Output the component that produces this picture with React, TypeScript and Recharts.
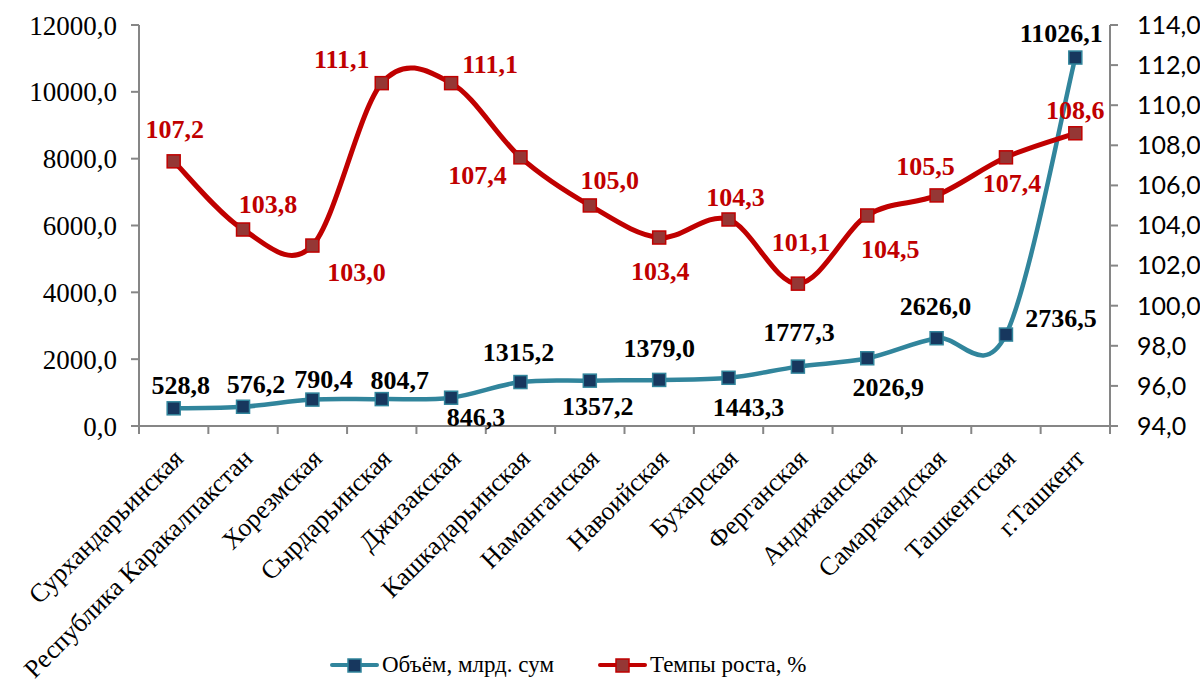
import { LineChart, Line, XAxis, YAxis, Legend, LabelList } from 'recharts'

const regions = [
    'Сурхандарьинская',
    'Республика Каракалпакстан',
    'Хорезмская',
    'Сырдарьинская',
    'Джизакская',
    'Кашкадарьинская',
    'Наманганская',
    'Навоийская',
    'Бухарская',
    'Ферганская',
    'Андижанская',
    'Самаркандская',
    'Ташкентская',
    'г.Ташкент',
]

const volume = [528.8, 576.2, 790.4, 804.7, 846.3, 1315.2, 1357.2, 1379.0, 1443.3, 1777.3, 2026.9, 2626.0, 2736.5, 11026.1]
const growth = [107.2, 103.8, 103.0, 111.1, 111.1, 107.4, 105.0, 103.4, 104.3, 101.1, 104.5, 105.5, 107.4, 108.6]

const leftTicks = [0, 2000, 4000, 6000, 8000, 10000, 12000]
const rightTicks = [94, 96, 98, 100, 102, 104, 106, 108, 110, 112, 114]

// смещения подписей относительно маркеров
const volumeLabelPos = [[7, -23], [13, -22], [11, -20], [18, -19], [25, 20], [-2, -30], [8, 26], [0, -31], [20, 30], [1, -34], [21, 29], [-1, -32], [55, -16], [-14, -24]]
const growthLabelPos = [[1, -32], [25, -25], [44, 27], [-40, -24], [39, -19], [-43, 18], [20, -25], [1, 34], [7, -22], [3, -41], [23, 34], [-11, -29], [6, 26], [0, -23]]

const data = regions.map((name, i) => ({ name, volume: volume[i], growth: growth[i] }))

const fmt = (v: number) => v.toFixed(1).replace('.', ',')

const TEAL = '#31859C'
const NAVY = '#17375E'
const RED = '#C00000'
const BROWN = '#953735'
const GREY = '#868686'
const SERIF = "'Liberation Serif', 'Times New Roman', serif"
const SANS = "Lato, 'Open Sans', sans-serif"

// сглаживание как в Excel (Catmull-Rom, контрольные точки 1/6)
function excelCurve(context: any) {
    let pts: number[][] = []
    return {
        areaStart() {},
        areaEnd() {},
        lineStart() { pts = [] },
        lineEnd() {
            if (!pts.length) return
            context.moveTo(pts[0][0], pts[0][1])
            for (let i = 0; i < pts.length - 1; i++) {
                const p0 = pts[Math.max(i - 1, 0)]
                const p1 = pts[i]
                const p2 = pts[i + 1]
                const p3 = pts[Math.min(i + 2, pts.length - 1)]
                context.bezierCurveTo(
                    p1[0] + (p2[0] - p0[0]) / 6, p1[1] + (p2[1] - p0[1]) / 6,
                    p2[0] - (p3[0] - p1[0]) / 6, p2[1] - (p3[1] - p1[1]) / 6,
                    p2[0], p2[1]
                )
            }
        },
        point(x: number, y: number) { pts.push([+x, +y]) },
    }
}

const squareDot = (fill: string, stroke: string) => (props: any) => {
    const { cx, cy, index } = props
    if (cx == null || cy == null) return <g key={index} />
    return <rect key={index} x={cx - 6.5} y={cy - 6.5} width={13} height={13} fill={fill} stroke={stroke} strokeWidth={1.5} />
}

const makeLabel = (pos: number[][], color: string) => (props: any) => {
    const { x, y, index, value } = props
    const [dx, dy] = pos[index]
    return (
        <text x={x + dx} y={y + dy} textAnchor="middle" dominantBaseline="central"
            fill={color} style={{ fontFamily: SERIF, fontWeight: 'bold', fontSize: 26 }}>
            {fmt(value)}
        </text>
    )
}

const BAND = 971 / 14

const CategoryTick = (props: any) => {
    const { x, y, payload, index } = props
    const tx = x + 11
    const ty = y + 34
    return (
        <g>
            <line x1={x - BAND / 2} y1={y} x2={x - BAND / 2} y2={y + 8} stroke={GREY} strokeWidth={2} />
            {index === regions.length - 1 && (
                <line x1={x + BAND / 2} y1={y} x2={x + BAND / 2} y2={y + 8} stroke={GREY} strokeWidth={2} />
            )}
            <text x={tx} y={ty} transform={`rotate(-45, ${tx}, ${ty})`} textAnchor="end"
                fill="#000" style={{ fontFamily: SERIF, fontSize: 26 }}>
                {payload.value}
            </text>
        </g>
    )
}

const LegendItem = ({ color, fill, label }: { color: string, fill: string, label: string }) => (
    <div style={{ display: 'flex', alignItems: 'center' }}>
        <svg width={49} height={20}>
            <line x1={2} y1={10} x2={47} y2={10} stroke={color} strokeWidth={4} strokeLinecap="round" />
            <rect x={18} y={4} width={13} height={13} fill={fill} stroke={color} strokeWidth={1.5} />
        </svg>
        <span style={{ fontFamily: SERIF, fontSize: 23, color: '#000', marginLeft: 3 }}>{label}</span>
    </div>
)

const renderLegend = () => (
    <div style={{ display: 'flex', justifyContent: 'flex-start', gap: 44, height: 36, alignItems: 'center', paddingLeft: 322 }}>
        <LegendItem color={TEAL} fill={NAVY} label="Объём, млрд. сум" />
        <LegendItem color={RED} fill={BROWN} label="Темпы роста, %" />
    </div>
)

export default function App() {
    return (
        <div style={{ position: 'absolute', left: 8, top: 8, width: 1192, height: 675, background: '#fff' }}>
            <LineChart width={1192} height={675} data={data} margin={{ top: 17, right: 8, left: 0, bottom: 0 }}>
                <XAxis dataKey="name" height={221} interval={0} tickLine={false} tickSize={0} tickMargin={0}
                    padding={{ left: BAND / 2, right: BAND / 2 }}
                    axisLine={{ stroke: GREY, strokeWidth: 2 }} tick={<CategoryTick />} />
                <YAxis yAxisId="left" orientation="left" width={131} domain={[0, 12000]} ticks={leftTicks}
                    tickFormatter={fmt} axisLine={{ stroke: GREY, strokeWidth: 2 }}
                    tickLine={{ stroke: GREY, strokeWidth: 2 }} tickSize={8} tickMargin={14}
                    tick={{ fill: '#000', fontFamily: SERIF, fontSize: 27 }} />
                <YAxis yAxisId="right" orientation="right" width={82} domain={[94, 114]} ticks={rightTicks}
                    tickFormatter={fmt} axisLine={{ stroke: GREY, strokeWidth: 2 }}
                    tickLine={{ stroke: GREY, strokeWidth: 2 }} tickSize={8} tickMargin={19}
                    tick={{ fill: '#000', fontFamily: SANS, fontSize: 25 }} />
                <Legend verticalAlign="bottom" height={36} content={renderLegend} />
                <Line yAxisId="left" dataKey="volume" name="Объём, млрд. сум" type={excelCurve as any}
                    stroke={TEAL} strokeWidth={4.5} dot={squareDot(NAVY, TEAL)} isAnimationActive={false}>
                    <LabelList dataKey="volume" content={makeLabel(volumeLabelPos, '#000')} />
                </Line>
                <Line yAxisId="right" dataKey="growth" name="Темпы роста, %" type={excelCurve as any}
                    stroke={RED} strokeWidth={5} dot={squareDot(BROWN, RED)} isAnimationActive={false}>
                    <LabelList dataKey="growth" content={makeLabel(growthLabelPos, RED)} />
                </Line>
            </LineChart>
        </div>
    )
}
